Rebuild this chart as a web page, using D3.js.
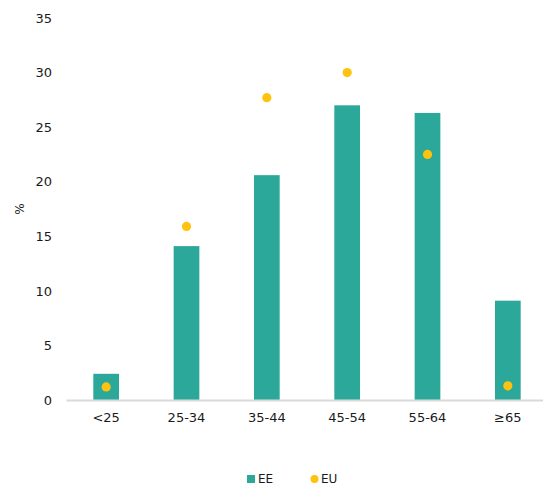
<!DOCTYPE html>
<html>
<head>
<meta charset="utf-8">
<script src="https://cdn.jsdelivr.net/npm/d3@7"></script>
<style>
  html, body { margin: 0; padding: 0; background: #fff; }
  svg { display: block; font-family: "DejaVu Sans", "Noto Sans", sans-serif; }
</style>
</head>
<body>
<svg id="chart" width="543" height="486"></svg>
<script>
const categories = ["<25", "25-34", "35-44", "45-54", "55-64", "≥65"];
const eeValues = [2.4, 14.1, 20.6, 27.0, 26.3, 9.1];
const euValues = [1.2, 15.9, 27.7, 30.0, 22.5, 1.3];
const yTicks = [0, 5, 10, 15, 20, 25, 30, 35];
const seriesNames = ["EE", "EU"];

const svg = d3.select("#chart");
const textColor = "#1a1a1a";
const barColor = "#2ca89a";
const dotColor = "#ffc20e";
const fontFam = "DejaVu Sans";

const x = d3.scaleBand().domain(categories).range([66, 548]).paddingInner(0.68).paddingOuter(0.34);
const y = d3.scaleLinear().domain([0, 35]).range([400, 18]);

// y axis labels
const yAxis = d3.axisLeft(y).tickValues(yTicks).tickSize(0).tickPadding(0).tickFormat(d3.format("d"));
const yg = svg.append("g").attr("transform", "translate(52,0)").call(yAxis);
yg.select(".domain").remove();
yg.selectAll("text").attr("font-size", 13).attr("fill", textColor).attr("font-family", fontFam);

// bars
svg.append("g").selectAll("rect").data(categories).join("rect")
  .attr("x", d => x(d))
  .attr("width", x.bandwidth())
  .attr("y", (d, i) => y(eeValues[i]))
  .attr("height", (d, i) => y(0) - y(eeValues[i]))
  .attr("fill", barColor);

// x axis
const xAxis = d3.axisBottom(x).tickSize(0).tickPadding(13);
const xg = svg.append("g").attr("transform", `translate(0,${y(0)})`).call(xAxis);
xg.select(".domain").attr("stroke", "#d9d9d9").attr("stroke-width", 2);
xg.selectAll("text").attr("font-size", 13).attr("fill", textColor).attr("font-family", fontFam);

// dots
svg.append("g").selectAll("circle").data(categories).join("circle")
  .attr("cx", d => x(d) + x.bandwidth() / 2)
  .attr("cy", (d, i) => y(euValues[i]))
  .attr("r", 4.6)
  .attr("fill", dotColor);

// y title
svg.append("text")
  .attr("transform", "translate(24,209) rotate(-90)")
  .attr("text-anchor", "middle")
  .attr("font-size", 12)
  .attr("font-family", fontFam)
  .attr("fill", textColor)
  .text("%");

// legend
const lg = svg.append("g").attr("font-family", fontFam);
lg.append("rect").attr("x", 247).attr("y", 475).attr("width", 8).attr("height", 8).attr("fill", barColor);
lg.append("text").attr("x", 258).attr("y", 483).attr("font-size", 12).attr("fill", textColor).text(seriesNames[0]);
lg.append("circle").attr("cx", 314.5).attr("cy", 479).attr("r", 4).attr("fill", dotColor);
lg.append("text").attr("x", 321).attr("y", 483).attr("font-size", 12).attr("fill", textColor).text(seriesNames[1]);
</script>
</body>
</html>
